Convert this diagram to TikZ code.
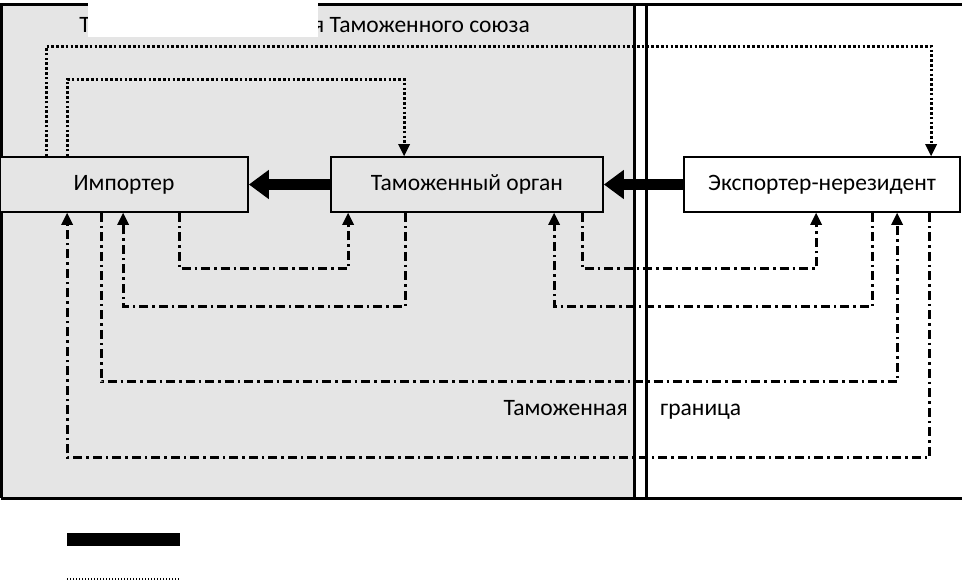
\documentclass[tikz,border=0pt]{standalone}
\usepackage{fontspec}
\setmainfont{Carlito}
\usetikzlibrary{arrows.meta}
\begin{document}
\begin{tikzpicture}[x=1pt,y=-1pt,
  box/.style={draw=black,line width=1.8pt,minimum height=55pt,inner sep=0pt,font=\fontsize{23.5}{28}\selectfont},
  frameline/.style={line width=3pt,black},
  bigarrow/.style={line width=11pt,-{Triangle[length=20pt,width=28pt]}},
  dotline/.style={line width=3pt,dash pattern=on 2.6pt off 2.2pt,-{Triangle[length=12pt,width=12pt,line width=0pt]}},
  dashdot/.style={line width=3pt,dash pattern=on 9pt off 4pt on 2.5pt off 4pt,-{Triangle[length=12pt,width=12pt,line width=0pt]}},
  lbl/.style={font=\fontsize{23.5}{28}\selectfont,inner sep=0pt}]
\useasboundingbox (0,0) rectangle (962,584);
% regions
\fill[black!10] (1,4) rectangle (634,498);
\draw[frameline] (1,498) -- (1,4) -- (962,4);
\draw[frameline] (1,498) -- (962,498);
\draw[frameline] (634,4) -- (634,498);
\draw[frameline] (646,4) -- (646,498);
% title (partly covered)
\node[lbl,anchor=base east] (title) at (530,32) {Таможенная территория Таможенного союза};
\fill[white] (88,0) rectangle (318,37);
% boxes
\node[box,fill=black!10,minimum width=248pt] (imp) at (124,184.5) {Импортер};
\node[box,fill=black!10,minimum width=272pt] (cust) at (467,184.5) {Таможенный орган};
\node[box,fill=white,minimum width=276pt] (exp) at (822,184.5) {Экспортер-нерезидент};
% thick arrows
\draw[bigarrow] (cust.west) -- (imp.east);
\draw[bigarrow] (exp.west) -- (cust.east);
% dotted connectors
\draw[dotline] ([xshift=47pt]imp.north west) -- ++(0,-110) -| ([xshift=248pt]exp.north west);
\draw[dotline] ([xshift=68pt]imp.north west) -- ++(0,-77) -| ([xshift=74pt]cust.north west);
% dash-dot connectors
\draw[dashdot] ([xshift=180pt]imp.south west) -- ++(0,56) -| ([xshift=18pt]cust.south west);
\draw[dashdot] ([xshift=75pt]cust.south west) -- ++(0,94) -| ([xshift=124pt]imp.south west);
\draw[dashdot] ([xshift=252pt]cust.south west) -- ++(0,56) -| ([xshift=133pt]exp.south west);
\draw[dashdot] ([xshift=189pt]exp.south west) -- ++(0,94) -| ([xshift=224pt]cust.south west);
\draw[dashdot] ([xshift=102pt]imp.south west) -- ++(0,169) -| ([xshift=214pt]exp.south west);
\draw[dashdot] ([xshift=246pt]exp.south west) -- ++(0,245) -| ([xshift=68pt]imp.south west);
% border labels
\node[lbl,anchor=base east] (bl) at (628,415) {Таможенная};
\node[lbl,anchor=base west] (br) at (660,415) {граница};
% legend
\fill[black] (67,533) rectangle (180,546);
\draw[line width=1.4pt,dash pattern=on 1.4pt off 1.6pt] (67,579) -- (180,579);
\end{tikzpicture}
\end{document}
